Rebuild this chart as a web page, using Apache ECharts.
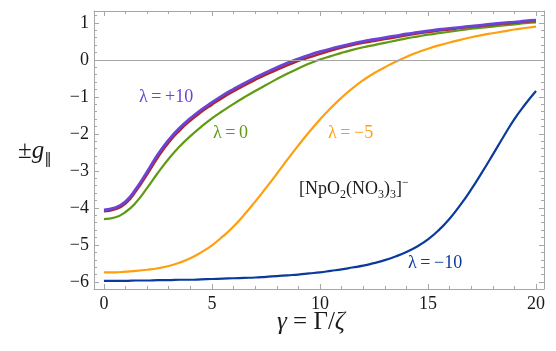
<!DOCTYPE html>
<html lang="en">
  <head>
    <meta charset="UTF-8" />
    <title>g parallel vs gamma</title>
    <script src="https://cdn.jsdelivr.net/npm/echarts@6/dist/echarts.min.js"></script>
    <style>
      html, body { margin: 0; padding: 0; background: #fff; }
      #main { width: 556px; height: 351px; }
    </style>
  </head>
  <body>
    <div id="main"></div>

    <script>
      // gamma = Gamma/zeta grid
      var gammas = [0, 0.5, 1, 1.5, 2, 2.5, 3, 3.5, 4, 4.5, 5, 5.5, 6, 6.5, 7, 7.5, 8, 8.5, 9, 9.5, 10,
        10.5, 11, 11.5, 12, 12.5, 13, 13.5, 14, 14.5, 15, 15.5, 16, 16.5, 17, 17.5, 18, 18.5, 19, 19.5, 20];

      // lambda = +10
      var gPlus10 = [-4.05, -4.0, -3.83, -3.47, -3.02, -2.55, -2.16, -1.84, -1.58, -1.35, -1.15, -0.96, -0.79,
        -0.63, -0.48, -0.34, -0.21, -0.08, 0.03, 0.13, 0.22, 0.3, 0.37, 0.44, 0.5, 0.55, 0.6, 0.65, 0.7,
        0.74, 0.78, 0.82, 0.85, 0.88, 0.91, 0.94, 0.97, 1.0, 1.02, 1.05, 1.07];
      // lambda = +5 (red, mostly hidden under purple)
      var gPlus5 = [-4.09, -4.04, -3.88, -3.53, -3.09, -2.63, -2.23, -1.91, -1.64, -1.41, -1.21, -1.02, -0.85,
        -0.69, -0.54, -0.4, -0.27, -0.14, -0.03, 0.07, 0.16, 0.25, 0.33, 0.4, 0.46, 0.51, 0.56, 0.61, 0.66,
        0.71, 0.75, 0.79, 0.82, 0.86, 0.89, 0.92, 0.95, 0.98, 1.0, 1.03, 1.05];
      // lambda = 0
      var gZero = [-4.3, -4.26, -4.11, -3.84, -3.46, -3.05, -2.67, -2.34, -2.06, -1.81, -1.58, -1.38, -1.19,
        -1.01, -0.84, -0.68, -0.52, -0.37, -0.23, -0.1, 0.01, 0.1, 0.19, 0.27, 0.34, 0.4, 0.46, 0.52, 0.58,
        0.63, 0.68, 0.72, 0.76, 0.8, 0.84, 0.87, 0.9, 0.93, 0.96, 0.99, 1.01];
      // lambda = -5
      var gMinus5 = [-5.74, -5.74, -5.72, -5.7, -5.67, -5.63, -5.57, -5.48, -5.36, -5.2, -5.01, -4.77, -4.5,
        -4.18, -3.83, -3.46, -3.08, -2.69, -2.31, -1.95, -1.61, -1.3, -1.02, -0.77, -0.55, -0.36, -0.2, -0.05,
        0.08, 0.2, 0.3, 0.39, 0.47, 0.54, 0.61, 0.67, 0.72, 0.77, 0.82, 0.86, 0.9];
      // lambda = -10
      var gMinus10 = [-5.97, -5.97, -5.97, -5.96, -5.96, -5.95, -5.95, -5.94, -5.94, -5.93, -5.92, -5.91, -5.9,
        -5.89, -5.88, -5.86, -5.84, -5.82, -5.8, -5.77, -5.74, -5.7, -5.66, -5.61, -5.56, -5.49, -5.41, -5.31,
        -5.19, -5.04, -4.85, -4.6, -4.29, -3.92, -3.5, -3.04, -2.56, -2.07, -1.6, -1.2, -0.84];

      // tick positions
      var xMajorTicks = [0, 5, 10, 15, 20];
      var xMinorTicks = [0, 1, 2, 3, 4, 5, 6, 7, 8, 9, 10, 11, 12, 13, 14, 15, 16, 17, 18, 19, 20];
      var yMajorTicks = [-6, -5, -4, -3, -2, -1, 0, 1];
      var yMinorTicks = [-6.2, -6, -5.8, -5.6, -5.4, -5.2, -5, -4.8, -4.6, -4.4, -4.2, -4, -3.8, -3.6, -3.4,
        -3.2, -3, -2.8, -2.6, -2.4, -2.2, -2, -1.8, -1.6, -1.4, -1.2, -1, -0.8, -0.6, -0.4, -0.2, 0, 0.2,
        0.4, 0.6, 0.8, 1, 1.2];

      var X_MIN = -0.46, X_MAX = 20.37, Y_MIN = -6.19, Y_MAX = 1.32;
      var frameColor = "#a6a6a6";
      var serif = "Liberation Serif";
      var plotRect = { left: 94, right: 12, top: 11, bottom: 62 };
      var thin = "\u2009";

      function pairs(ys) {
        return gammas.map(function (x, i) { return [x, ys[i]]; });
      }
      function minus(v) {
        return v < 0 ? "\u2212" + Math.abs(v) : String(v);
      }

      // one axis of the frame; grid 0 carries the long ticks, grid 1 the short ones
      function axis(gridIndex, pos, ticks, len, showLabel, showLine, min, max, margin) {
        return {
          type: "value", gridIndex: gridIndex, position: pos, min: min, max: max,
          axisLine: { show: showLine, onZero: false, lineStyle: { color: frameColor, width: 1 } },
          axisTick: { show: true, inside: true, length: len, customValues: ticks,
            lineStyle: { color: frameColor, width: 1 } },
          axisLabel: { show: showLabel, customValues: ticks, margin: margin,
            fontFamily: serif, fontSize: 18, color: "#1a1a1a", formatter: minus },
          splitLine: { show: false }
        };
      }

      function line(name, ys, color, width) {
        return {
          name: name, type: "line", data: pairs(ys), showSymbol: false, smooth: 0.5,
          xAxisIndex: 0, yAxisIndex: 0,
          lineStyle: { color: color, width: width }, itemStyle: { color: color },
          silent: true, animation: false
        };
      }

      var myChart = echarts.init(document.getElementById("main"));

      var seriesList = [
        line("λ=−10", gMinus10, "#0a3a9c", 2.2),
        line("λ=−5", gMinus5, "#ff9f10", 2.2),
        line("λ=0", gZero, "#5f9a12", 2.2),
        line("λ=+5", gPlus5, "#b3242a", 2.4),
        line("λ=+10", gPlus10, "#6a44d4", 2.8)
      ];
      // zero reference line
      seriesList[0].markLine = {
        silent: true, symbol: "none", label: { show: false },
        lineStyle: { color: "#a6a6a6", type: "solid", width: 1 },
        data: [{ yAxis: 0 }]
      };

      function label(text, x, y, color) {
        return { type: "text", left: x, top: y,
          style: { text: text, fontFamily: serif, fontSize: 18, fill: color } };
      }

      var option = {
        animation: false,
        grid: [Object.assign({}, plotRect), Object.assign({}, plotRect)],
        xAxis: [
          axis(0, "bottom", xMajorTicks, 5, true, true, X_MIN, X_MAX, 6),
          axis(0, "top", xMajorTicks, 5, false, true, X_MIN, X_MAX, 6),
          axis(1, "bottom", xMinorTicks, 3, false, false, X_MIN, X_MAX, 6),
          axis(1, "top", xMinorTicks, 3, false, false, X_MIN, X_MAX, 6)
        ],
        yAxis: [
          axis(0, "left", yMajorTicks, 5, true, true, Y_MIN, Y_MAX, 5),
          axis(0, "right", yMajorTicks, 5, false, true, Y_MIN, Y_MAX, 5),
          axis(1, "left", yMinorTicks, 3, false, false, Y_MIN, Y_MAX, 5),
          axis(1, "right", yMinorTicks, 3, false, false, Y_MIN, Y_MAX, 5)
        ],
        series: seriesList,
        graphic: [
          {
            type: "text", left: 18, top: 139,
            style: {
              text: "{n|±}{i|g}{s|‖}",
              rich: {
                n: { fontFamily: serif, fontSize: 25, fill: "#1a1a1a", lineHeight: 30 },
                i: { fontFamily: serif, fontSize: 25, fontStyle: "italic", fill: "#1a1a1a", lineHeight: 30 },
                s: { fontFamily: "DejaVu Serif", fontSize: 15, fill: "#1a1a1a", verticalAlign: "bottom", lineHeight: 15 }
              }
            }
          },
          {
            type: "text", left: 277, top: 310,
            style: {
              text: "{i|γ}{n| = Γ/}{i|ζ}",
              rich: {
                n: { fontFamily: serif, fontSize: 25, fill: "#1a1a1a" },
                i: { fontFamily: serif, fontSize: 25, fontStyle: "italic", fill: "#1a1a1a" }
              }
            }
          },
          label("λ" + thin + "=" + thin + "+10", 139, 88, "#6a44d4"),
          label("λ" + thin + "=" + thin + "0", 213, 124, "#5f9a12"),
          label("λ" + thin + "=" + thin + "−5", 328, 124, "#ff9f10"),
          label("λ" + thin + "=" + thin + "−10", 408, 254, "#0a3a9c"),
          {
            type: "text", left: 299, top: 177,
            style: {
              text: "{n|[NpO}{s|2}{n|(NO}{s|3}{n|)}{s|3}{n|]}{p|−}",
              rich: {
                n: { fontFamily: serif, fontSize: 18, fill: "#1a1a1a", lineHeight: 24 },
                s: { fontFamily: serif, fontSize: 12, fill: "#1a1a1a", verticalAlign: "bottom", lineHeight: 12 },
                p: { fontFamily: serif, fontSize: 12, fill: "#1a1a1a", verticalAlign: "top", lineHeight: 12 }
              }
            }
          }
        ]
      };

      myChart.setOption(option);
    </script>
  </body>
</html>
